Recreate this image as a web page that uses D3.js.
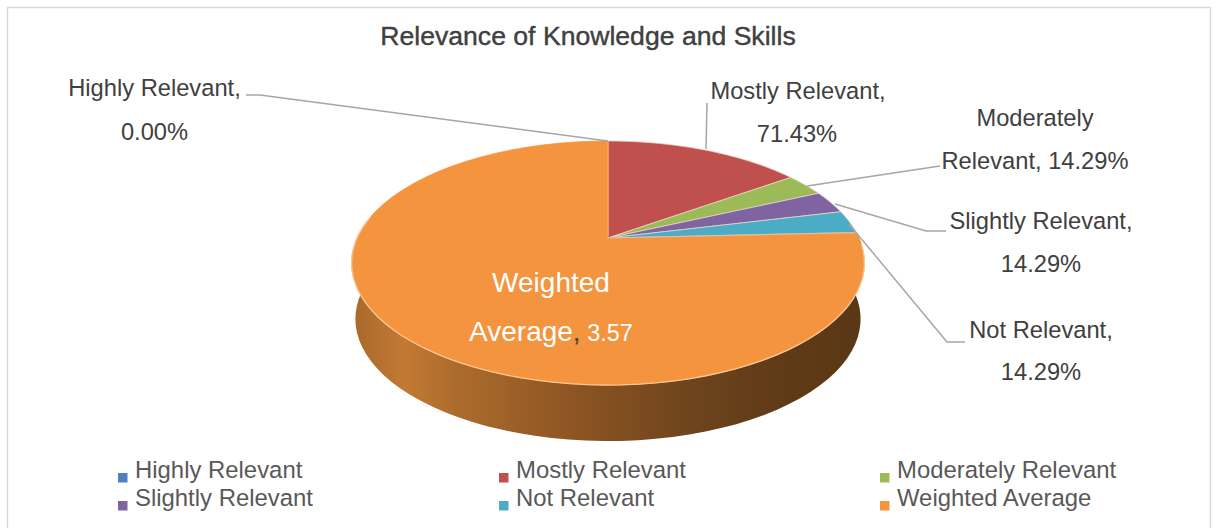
<!DOCTYPE html>
<html>
<head>
<meta charset="utf-8">
<style>
html,body{margin:0;padding:0;background:#fff;overflow:hidden}
text{font-family:"Liberation Sans",Arial,sans-serif}
</style>
<script src="https://cdn.jsdelivr.net/npm/d3@7/dist/d3.min.js"></script>
</head>
<body>
<svg id="chart" width="1217" height="528"></svg>
<script>
const categories = ["Highly Relevant","Mostly Relevant","Moderately Relevant","Slightly Relevant","Not Relevant","Weighted Average"];
const values = [0, 0.7143, 0.1429, 0.1429, 0.1429, 3.57];
const colors = ["#4f81bd","#c0504d","#9bbb59","#8064a2","#4bacc6","#f4943f"];
const titleText = "Relevance of Knowledge and Skills";

const svg = d3.select("#chart");
const defs = svg.append("defs");
const grad = defs.append("linearGradient").attr("id","wall")
  .attr("gradientUnits","userSpaceOnUse").attr("x1",353).attr("x2",864).attr("y1",0).attr("y2",0);
[[0,"#a9682a"],[0.1,"#c27a33"],[0.2,"#ac6c2c"],[0.45,"#8a5322"],[0.68,"#6c431c"],[0.85,"#5f3a17"],[1,"#5a3815"]]
  .forEach(([o,c])=>grad.append("stop").attr("offset",o).attr("stop-color",c));

// frame
svg.append("path").attr("d","M7.5,528V7.5H1210.5V528").attr("fill","none").attr("stroke","#d9d9d9").attr("stroke-width",1.5);

// title
svg.append("text").attr("x",588).attr("y",45).attr("text-anchor","middle")
  .attr("font-size",26.6).attr("fill","#404040").attr("stroke","#404040").attr("stroke-width",0.4).text(titleText);

// perspective projection of the pie disc
const ax = 608, ay = 238, R = 251, H = 116.9, k = 0.205, depth = 56;
const project = t => {
  const w = 1 + k*Math.cos(t);
  return [ax + R*Math.sin(t)/w, ay - H*Math.cos(t)/w];
};
const projectLow = t => {
  const p = project(t);
  return [ax + (p[0]-ax)*0.985, p[1] + depth];
};
const line = d3.line();
const arcPts = (a,b,f) => d3.range(0,61).map(i => f(a + (b-a)*i/60));

const arcs = d3.pie().sort(null).value(d=>d)(values);

// wall (front side of the disc, only the large slice reaches it)
const last = arcs[arcs.length-1];
const wStart = last.startAngle, wEnd = Math.min(last.endAngle, 1.56*Math.PI);
const wallPts = arcPts(wStart,wEnd,project).concat(arcPts(wEnd,wStart,projectLow));
svg.append("path").attr("d",line(wallPts)+"Z").attr("fill","url(#wall)");

// top face
svg.append("g").selectAll("path").data(arcs).join("path")
  .attr("d",d => d.endAngle-d.startAngle>0 ? line([[ax,ay]].concat(arcPts(d.startAngle,d.endAngle,project)))+"Z" : null)
  .attr("fill",(d,i)=>colors[i])
  .attr("stroke",(d,i)=>i===5?"#f4943f":"#e8d3c4").attr("stroke-width",0.8);

// light rim along the front edge
svg.append("path").attr("d",line(arcPts(last.startAngle+0.1,wEnd,project)))
  .attr("fill","none").attr("stroke","#fbc795").attr("stroke-width",1.3);
// pale seam at the top of the orange slice start
svg.append("path").attr("d",line([[ax,ay],project(last.startAngle)]))
  .attr("stroke","#d8c0ae").attr("stroke-width",1.2).attr("fill","none");
svg.append("path").attr("d",line([[ax,ay],[ax,ay-96]]))
  .attr("stroke","#f4b27a").attr("stroke-width",0.8).attr("fill","none");

// leader lines
const leaders = [
  [[246,95],[260,95],project(arcs[0].startAngle)],
  [[707,103],[706,149]],
  [[940,166],[807,186]],
  [[946,231],[926,231],[835,204]],
  [[965,342],[947,342],[849,224]]
];
svg.append("g").selectAll("path").data(leaders).join("path")
  .attr("d",d=>line(d)).attr("fill","none").attr("stroke","#a6a6a6").attr("stroke-width",1.5);

// data labels
const labels = [
  ["Highly Relevant,",154.5,96],["0.00%",154.5,140],
  ["Mostly Relevant,",798,99],["71.43%",797,142],
  ["Moderately",1035,126],["Relevant, 14.29%",1035,169],
  ["Slightly Relevant,",1041,229],["14.29%",1041,272],
  ["Not Relevant,",1041,338],["14.29%",1041,380]
];
svg.append("g").selectAll("text").data(labels).join("text")
  .attr("x",d=>d[1]).attr("y",d=>d[2]).attr("text-anchor","middle")
  .attr("font-size",23.7).attr("fill","#404040").text(d=>d[0]);

svg.append("text").attr("x",551).attr("y",292).attr("text-anchor","middle")
  .attr("font-size",28).attr("fill","#fff").text("Weighted");
const avg = svg.append("text").attr("x",551).attr("y",341).attr("text-anchor","middle")
  .attr("font-size",28).attr("fill","#fff");
avg.append("tspan").text("Average");
avg.append("tspan").attr("fill","#404040").text(",");
avg.append("tspan").attr("font-size",23.5).text(" 3.57");

// legend
const lx = d3.scalePoint().domain([0,1,2]).range([118,880]);
const ly = d3.scalePoint().domain([0,1]).range([473,501]);
const lg = svg.append("g").selectAll("g").data(categories).join("g")
  .attr("transform",(d,i)=>`translate(${lx(i%3)},${ly(Math.floor(i/3))})`);
lg.append("rect").attr("width",9.5).attr("height",9.5).attr("fill",(d,i)=>colors[i]);
lg.append("text").attr("x",17).attr("y",5).attr("font-size",23.9).attr("fill","#595959").text(d=>d);
</script>
</body>
</html>
